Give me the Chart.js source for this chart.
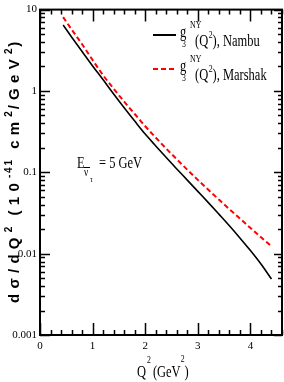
<!DOCTYPE html>
<html><head><meta charset="utf-8">
<script src="https://cdn.jsdelivr.net/npm/chart.js@4"></script>
<style>html,body{margin:0;padding:0;background:#fff}#wrap{width:284px;height:382px;position:relative}</style>
</head><body><div id="wrap"><canvas id="c" width="284" height="382"></canvas></div>
<script>
// ---- data ----
const q2Values = [0.44,0.6,0.8,1.0,1.2,1.4,1.6,1.8,2.0,2.2,2.4,2.6,2.8,3.0,3.2,3.4,3.6,3.8,4.0,4.2,4.4];
const nambuValues = [6.46,4.61,3.05,2.03,1.37,0.916,0.621,0.426,0.295,0.211,0.152,0.110,0.0802,0.0583,0.0424,0.0306,0.0220,0.0156,0.0109,0.00745,0.00488];
const marshakValues = [8.07,5.71,3.75,2.40,1.56,1.067,0.740,0.521,0.368,0.267,0.195,0.1445,0.1076,0.0807,0.0610,0.0462,0.0352,0.0270,0.0207,0.0159,0.0123];
const xTickValues = [0,1,2,3,4];
const xTickLabels = ['0','1','2','3','4'];
const yTickValues = [0.001,0.01,0.1,1,10];
const yTickLabels = ['0.001','0.01','0.1','1','10'];
const seriesNames = ['Nambu','Marshak'];
const energyLabel = '= 5 GeV';

const SERIF = '"Liberation Serif", "Times New Roman", serif';
const SANS = '"Liberation Sans", Arial, sans-serif';

function txt(ctx, s, x, y, size, sx, font) {
  ctx.save();
  ctx.font = size + 'px ' + (font || SERIF);
  ctx.textAlign = 'left';
  ctx.textBaseline = 'alphabetic';
  ctx.translate(x, y);
  ctx.scale(sx, 1);
  ctx.fillText(s, 0, 0);
  const w = ctx.measureText(s).width * sx;
  ctx.restore();
  return w;
}

const decor = {
  id: 'decor',
  afterDraw(chart) {
    const ctx = chart.ctx;
    const a = chart.chartArea;
    const xs = chart.scales.x, ys = chart.scales.y;
    ctx.save();
    ctx.strokeStyle = '#000';
    ctx.fillStyle = '#000';
    // frame
    ctx.lineWidth = 2;
    ctx.strokeRect(a.left, a.top, a.right - a.left, a.bottom - a.top);
    // x ticks
    ctx.lineWidth = 1.5;
    for (let i = 0; i <= 23; i++) {
      const v = i * 0.2;
      if (v > xs.max + 1e-9) break;
      const px = Math.round(xs.getPixelForValue(v)) + 0.5;
      const major = i % 5 === 0;
      const L = major ? 12 : 5;
      ctx.beginPath();
      ctx.moveTo(px, a.bottom); ctx.lineTo(px, a.bottom - L);
      ctx.moveTo(px, a.top); ctx.lineTo(px, a.top + L);
      ctx.stroke();
    }
    // y ticks
    for (let d = -3; d <= 1; d++) {
      for (let m = 1; m <= 9; m++) {
        const v = m * Math.pow(10, d);
        if (v > ys.max * 1.0001) break;
        const py = Math.round(ys.getPixelForValue(v)) + 0.5;
        const major = m === 1;
        const L = major ? 10 : 5;
        const R = major ? 8 : 4;
        ctx.beginPath();
        ctx.moveTo(a.left, py); ctx.lineTo(a.left + L, py);
        ctx.moveTo(a.right, py); ctx.lineTo(a.right - R, py);
        ctx.stroke();
      }
    }
    // legend
    const sx = 0.78;
    const rows = [{y: 0, color: '#000', dash: []}, {y: 34, color: '#ff0000', dash: [5, 3]}];
    rows.forEach((r, i) => {
      ctx.save();
      ctx.strokeStyle = r.color;
      ctx.lineWidth = 2;
      ctx.setLineDash(r.dash);
      ctx.beginPath();
      ctx.moveTo(153, 35 + r.y); ctx.lineTo(176, 35 + r.y);
      ctx.stroke();
      ctx.restore();
      ctx.fillStyle = '#000';
      txt(ctx, 'g', 180, 37 + r.y, 16, sx);
      txt(ctx, '3', 182, 47 + r.y, 10, sx);
      txt(ctx, 'NY', 190, 28 + r.y, 10, sx);
      let x = 195;
      x += txt(ctx, '(Q', x, 46 + r.y, 16, sx);
      x += txt(ctx, '2', x + 0.5, 38 + r.y, 10, sx) + 0.5;
      txt(ctx, '), ' + seriesNames[i], x, 46 + r.y, 16, sx);
    });
    // energy annotation
    txt(ctx, 'E', 77, 168, 16, sx);
    txt(ctx, 'ν', 84, 176, 12, sx);
    ctx.lineWidth = 1;
    ctx.beginPath(); ctx.moveTo(84, 167.5); ctx.lineTo(90, 167.5); ctx.stroke();
    txt(ctx, 'τ', 90, 182, 9, sx);
    txt(ctx, energyLabel, 99, 168, 16, sx);
    // x title
    let x = 137;
    x += txt(ctx, 'Q', x, 377, 16, sx);
    x += txt(ctx, '2', x + 1, 363, 10, sx) + 1;
    x += txt(ctx, '(GeV', x + 2, 377, 16, sx) + 2;
    x += txt(ctx, '2', x, 362, 10, sx);
    txt(ctx, ')', x, 377, 16, sx);
    // y title (rotated), letter-spaced to span y=303..40
    const segs = [['dσ/dQ', 0], ['2', 1], [' (10', 0], ['-41', 1], [' cm', 0], ['2', 1], ['/GeV', 0], ['2', 1], [')', 0]];
    const fN = 'bold 15px ' + SANS, fS = 'bold 10px ' + SANS;
    let natural = 0, n = 0;
    segs.forEach(([s, sup]) => { ctx.font = sup ? fS : fN; for (const ch of s) { natural += ctx.measureText(ch).width; n++; } });
    const ls = (263 - natural) / (n - 1);
    ctx.save();
    ctx.translate(19, 303);
    ctx.rotate(-Math.PI / 2);
    let p = 0;
    segs.forEach(([s, sup]) => {
      ctx.font = sup ? fS : fN;
      for (const ch of s) {
        ctx.fillText(ch, p, sup ? -7 : 0);
        p += ctx.measureText(ch).width + ls * (sup ? 0.4 : 1.2);
      }
    });
    ctx.restore();
    ctx.restore();
  }
};

new Chart(document.getElementById('c'), {
  type: 'line',
  data: {
    datasets: [
      { label: seriesNames[0], data: q2Values.map((x, i) => ({x, y: nambuValues[i]})),
        borderColor: '#000', borderWidth: 1.6, pointRadius: 0, cubicInterpolationMode: 'monotone', fill: false },
      { label: seriesNames[1], data: q2Values.map((x, i) => ({x, y: marshakValues[i]})),
        borderColor: '#ff0000', borderWidth: 2, borderDash: [5, 3], pointRadius: 0, cubicInterpolationMode: 'monotone', fill: false }
    ]
  },
  options: {
    responsive: false,
    animation: false,
    devicePixelRatio: 1,
    layout: { padding: { top: 5, right: 2, left: 0, bottom: 0 } },
    plugins: { legend: { display: false }, tooltip: { enabled: false }, title: { display: false } },
    scales: {
      x: {
        type: 'linear', min: 0, max: 4.6,
        afterBuildTicks: s => { s.ticks = xTickValues.map(v => ({ value: v })); },
        afterFit: s => { s.height = 47; },
        ticks: { callback: (v, i) => xTickLabels[i], font: { family: SERIF, size: 11 }, color: '#000', padding: 5, maxRotation: 0, autoSkip: false },
        grid: { display: false, drawTicks: false },
        border: { display: false }
      },
      y: {
        type: 'logarithmic', min: 0.001, max: 10,
        afterBuildTicks: s => { s.ticks = yTickValues.map(v => ({ value: v })); },
        afterFit: s => { s.width = 40; },
        ticks: { callback: (v, i) => yTickLabels[i], font: { family: SERIF, size: 11 }, color: '#000', padding: 3, autoSkip: false },
        grid: { display: false, drawTicks: false },
        border: { display: false }
      }
    }
  },
  plugins: [decor]
});
</script>
</body></html>
